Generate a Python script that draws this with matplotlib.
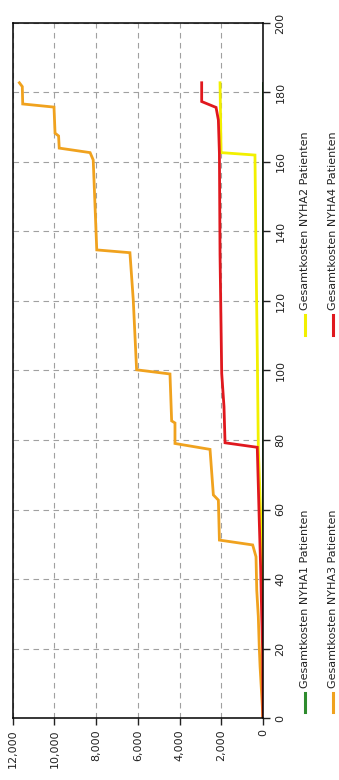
import numpy as np
import matplotlib
matplotlib.use("Agg")
import matplotlib.pyplot as plt
from matplotlib.lines import Line2D
from matplotlib.ticker import FuncFormatter

# chart is drawn rotated: cost runs right-to-left, time runs bottom-to-top
labels = ["Gesamtkosten NYHA1 Patienten", "Gesamtkosten NYHA2 Patienten",
          "Gesamtkosten NYHA3 Patienten", "Gesamtkosten NYHA4 Patienten"]
colors = ["#2e8b2e", "#f2f000", "#f0a21e", "#e0181e"]

t_nyha1 = [0, 182.8]
cost_nyha1 = [8, 8]

t_nyha2 = [0, 40, 60, 78, 105.9, 133.3, 162.0, 162.7, 182.8]
cost_nyha2 = [0, 30, 120, 225, 275, 335, 385, 2010, 2060]

t_nyha3 = [0, 14.8, 20.5, 29.2, 36.8, 46.4, 49.8, 51.2, 62.7, 64.2, 77.3, 79.0,
           84.9, 85.5, 99.0, 100.2, 120.3, 133.9, 134.7, 160.6, 162.7, 164.0,
           167.5, 168.3, 175.8, 176.7, 181.7, 182.8]
cost_nyha3 = [0, 140, 180, 225, 300, 335, 495, 2090, 2140, 2380, 2540, 4220,
              4220, 4380, 4460, 6060, 6220, 6380, 7970, 8140, 8290, 9770,
              9800, 9970, 10020, 11520, 11540, 11680]

t_nyha4 = [0, 20, 29, 42.6, 57, 67, 77.9, 79.2, 89.6, 99.2, 133.3, 162.5,
           172.1, 175.7, 177.4, 182.8]
cost_nyha4 = [0, 20, 60, 110, 180, 225, 275, 1820, 1870, 1980, 2060, 2090,
              2140, 2250, 2940, 2940]

cost_ticks = [0, 2000, 4000, 6000, 8000, 10000, 12000]
time_ticks = [0, 20, 40, 60, 80, 100, 120, 140, 160, 180, 200]

plt.rcParams["font.family"] = ["DejaVu Sans"]
fig = plt.figure(figsize=(3.39, 7.8), dpi=100)
W, H = 339.0, 780.0
ax = fig.add_axes([12.7 / W, 1 - 718 / H, (263 - 12.7) / W, (718 - 23) / H])

series = [(t_nyha1, cost_nyha1), (t_nyha2, cost_nyha2),
          (t_nyha3, cost_nyha3), (t_nyha4, cost_nyha4)]
for (t, c), col in zip(series, colors):
    ax.plot(c, t, color=col, lw=2.0, solid_joinstyle="miter")

ax.set_xlim(12000, 0)
ax.set_ylim(0, 200)
ax.set_xticks(cost_ticks)
ax.set_yticks(time_ticks)
ax.xaxis.set_major_formatter(FuncFormatter(lambda v, p: f"{int(v):,}"))
ax.yaxis.tick_right()
ax.tick_params(axis="x", labelrotation=90, labelsize=8, colors="#222222",
               length=5, width=1, pad=3)
ax.tick_params(axis="y", labelrotation=90, labelsize=8, colors="#222222",
               length=5, width=1, pad=4)
for lab in ax.get_yticklabels():
    lab.set_va("center")
ax.grid(True, color="#a0a0a0", lw=0.8, linestyle=(0, (5, 4)))
for s in ax.spines.values():
    s.set_color("black")
    s.set_linewidth(1.1)

# legend, rotated like the rest of the chart
leg_pos = [(305, 712, 693, 688), (305, 335, 315, 310),
           (333, 712, 693, 688), (333, 335, 315, 310)]
for (x, y0, y1, ytxt), col, lab in zip(leg_pos, colors, labels):
    fig.add_artist(Line2D([x / W, x / W], [1 - y0 / H, 1 - y1 / H],
                          color=col, lw=2.2, transform=fig.transFigure))
    fig.text(x / W, 1 - ytxt / H, lab, rotation=90, ha="center", va="bottom",
             fontsize=8, color="#222222")

fig.savefig("out.png", dpi=100)
